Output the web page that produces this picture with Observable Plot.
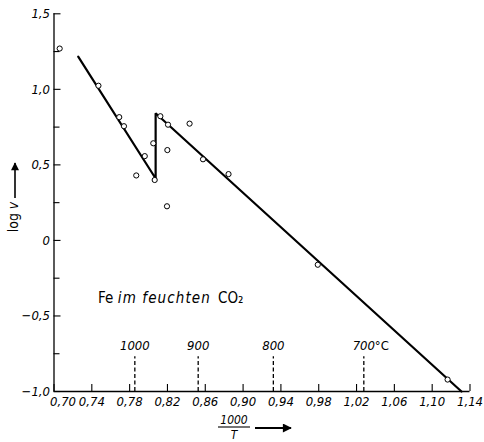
<!DOCTYPE html>
<html>
<head>
<meta charset="utf-8">
<script src="https://cdn.jsdelivr.net/npm/d3@7"></script>
<script src="https://cdn.jsdelivr.net/npm/@observablehq/plot@0.6"></script>
<style>
  html, body { margin: 0; padding: 0; background: #fff; }
  #chart svg { display: block; }
</style>
</head>
<body>
<div id="chart"></div>
<script>
// ---- data ----
const xTicks = [0.70, 0.74, 0.78, 0.82, 0.86, 0.90, 0.94, 0.98, 1.02, 1.06, 1.10, 1.14];
const yMajor = [-1.0, -0.5, 0, 0.5, 1.0, 1.5];
const yMinor = [-0.75, -0.25, 0.25, 0.75, 1.25];

const obsX = [0.706, 0.747, 0.769, 0.774, 0.796, 0.787, 0.805, 0.8065, 0.8125, 0.8206, 0.8434, 0.8199, 0.8576, 0.8846, 0.8195, 0.979, 1.1163];
const obsY = [1.27, 1.024, 0.816, 0.756, 0.558, 0.43, 0.643, 0.40, 0.822, 0.766, 0.773, 0.598, 0.537, 0.439, 0.226, -0.161, -0.921];

const fitX = [0.7256, 0.8075, 0.8075, 1.131];
const fitY = [1.216, 0.41, 0.842, -1.0];

const tempLabels = ["1000", "900", "800", "700"];
const tempX = [0.7855, 0.8525, 0.932, 1.0277];
const tempTop = -0.77;
const tempLabelY = -0.70;

const annotation = [
  {text: "Fe", x: 0.7465, style: "normal", spacing: 0},
  {text: "im feuchten", x: 0.7675, style: "italic", spacing: 1.1},
  {text: "CO₂", x: 0.8735, style: "normal", spacing: 0}
];
const annotationY = -0.385;

// ---- build ----
const obs = obsX.map((x, i) => ({x, y: obsY[i]}));
const fit = fitX.map((x, i) => ({x, y: fitY[i]}));
const temps = tempX.map((x, i) => ({x, label: tempLabels[i]}));

const W = 484, H = 442, mL = 53.5, mR = 14.5, mT = 13.3, mB = 51;
const font = "'DejaVu Sans Condensed', 'Liberation Sans Narrow', 'DejaVu Sans', sans-serif";
const fmtY = d => d === 0 ? "0" : d.toFixed(1).replace(".", ",").replace("-", "−");
const fmtX = d => d.toFixed(2).replace(".", ",");

const chart = Plot.plot({
  width: W,
  height: H,
  marginLeft: mL,
  marginRight: mR,
  marginTop: mT,
  marginBottom: mB,
  style: {fontFamily: font, fontSize: "13px", background: "white", color: "black"},
  x: {domain: [0.70, 1.14]},
  y: {domain: [-1.0, 1.5]},
  marks: [
    // axis lines
    Plot.ruleX([0.70], {y1: -1.0, y2: 1.5, strokeWidth: 1.3}),
    Plot.ruleY([-1.0], {x1: 0.70, x2: 1.14, strokeWidth: 1.3}),
    // inward ticks
    Plot.tickY(yMajor, {y: d => d, insetRight: (W - mL - mR) - 7, strokeWidth: 1.1}),
    Plot.tickY(yMinor, {y: d => d, insetRight: (W - mL - mR) - 6, strokeWidth: 1.1}),
    Plot.tickX(xTicks, {x: d => d, insetTop: (H - mT - mB) - 7, strokeWidth: 1.1}),
    // tick labels
    Plot.axisY(yMajor, {tickSize: 0, tickPadding: 4, tickFormat: fmtY, fontStyle: "italic", fontSize: 13, label: null}),
    Plot.axisX(xTicks.slice(1), {tickSize: 0, tickPadding: 5, tickFormat: fmtX, fontStyle: "italic", fontSize: 13, label: null}),
    Plot.axisX(xTicks.slice(0, 1), {tickSize: 0, tickPadding: 5, dx: 9, tickFormat: fmtX, fontStyle: "italic", fontSize: 13, label: null}),
    // temperature markers
    Plot.ruleX(temps, {x: "x", y1: -1.0, y2: tempTop, strokeDasharray: "4,2.5", strokeWidth: 1.3}),
    Plot.text(temps, {x: "x", y: tempLabelY, text: "label", fontStyle: "italic", fontSize: 13}),
    Plot.text(["°C"], {x: tempX[3], y: tempLabelY, text: d => d, textAnchor: "start", dx: 11, fontSize: 13}),
    // fitted line
    Plot.line(fit, {x: "x", y: "y", strokeWidth: 2.2, strokeLinejoin: "miter"}),
    // observations
    Plot.dot(obs, {x: "x", y: "y", r: 2.6, stroke: "black", strokeWidth: 1, fill: "white"}),
    // annotation
    ...annotation.map(a => Plot.text([a], {x: "x", y: annotationY, text: "text", textAnchor: "start", fontSize: 15, fontStyle: a.style}))
  ]
});

document.getElementById("chart").appendChild(chart);

const svg = d3.select(chart);
// letter spacing for the italic part of the annotation
svg.selectAll("text").each(function () {
  const a = annotation.find(t => t.text === this.textContent);
  if (a && a.spacing) d3.select(this).style("letter-spacing", a.spacing + "px");
});

// axis titles (decorations)
const defs = svg.append("defs");
defs.append("marker").attr("id", "ah").attr("viewBox", "0 0 10 10").attr("refX", 9).attr("refY", 5)
  .attr("markerWidth", 7).attr("markerHeight", 5).attr("orient", "auto-start-reverse")
  .append("path").attr("d", "M0,0L10,5L0,10z").attr("fill", "black");

// y title: log v with arrow
svg.append("text").attr("transform", "translate(18,217) rotate(-90)")
  .attr("text-anchor", "middle").attr("font-size", 14).attr("font-family", font)
  .html('log <tspan font-style="italic">v</tspan>');
svg.append("line").attr("x1", 15).attr("x2", 15).attr("y1", 198).attr("y2", 163)
  .attr("stroke", "black").attr("stroke-width", 1.6).attr("marker-end", "url(#ah)");

// x title: 1000/T with arrow
svg.append("text").attr("x", 234).attr("y", 424).attr("text-anchor", "middle")
  .attr("font-size", 12).attr("font-style", "italic").attr("font-family", font).text("1000");
svg.append("line").attr("x1", 218).attr("x2", 250).attr("y1", 427).attr("y2", 427)
  .attr("stroke", "black").attr("stroke-width", 1.1);
svg.append("text").attr("x", 234).attr("y", 438.5).attr("text-anchor", "middle")
  .attr("font-size", 12).attr("font-style", "italic").attr("font-family", font).text("T");
svg.append("line").attr("x1", 255).attr("x2", 291).attr("y1", 428).attr("y2", 428)
  .attr("stroke", "black").attr("stroke-width", 1.8).attr("marker-end", "url(#ah)");
</script>
</body>
</html>
